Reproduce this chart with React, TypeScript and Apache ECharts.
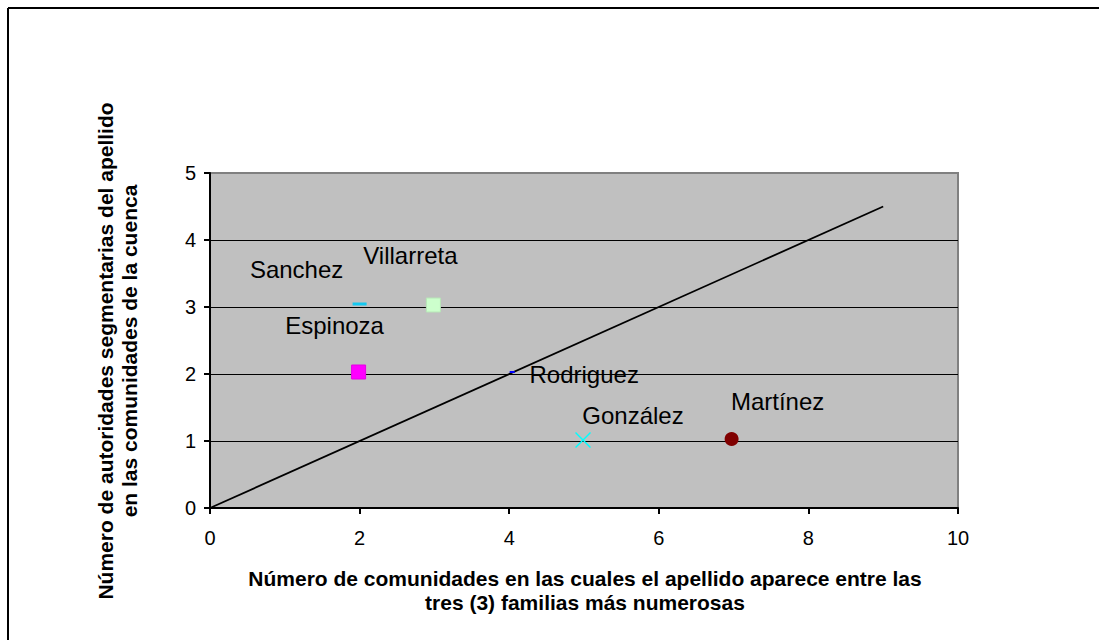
import React, { useEffect, useRef } from "react";
import * as echarts from "echarts";

const xTicks = [0, 2, 4, 6, 8, 10];
const yTicks = [0, 1, 2, 3, 4, 5];
const names = ["Sanchez", "Villarreta", "Espinoza", "Rodriguez", "González", "Martínez"];
const xValues = [2, 3, 2, 4, 5, 7];
const yValues = [3, 3, 2, 2, 1, 1];
const trendX = [0, 9];
const trendY = [0, 4.5];
const xTitle = "Número de comunidades en las cuales el apellido aparece entre las\ntres (3) familias más numerosas";
const yTitle = "Número de autoridades segmentarias del apellido\nen las comunidades de la cuenca";

const FONT = "Arial, 'Liberation Sans', sans-serif";

const markerStyles: any[] = [
  { symbol: "rect", symbolSize: [14, 3], symbolOffset: [0, -3], color: "#14c8f0", labelOffset: [-63, -35] },
  { symbol: "rect", symbolSize: 14, symbolOffset: [-1, -2], color: "#ccffcc", border: "#b8e6b8", labelOffset: [-23, -50] },
  { symbol: "rect", symbolSize: 14, symbolOffset: [-1, -2], color: "#ff00ff", border: "#e600e6", labelOffset: [-24, -47] },
  { symbol: "rect", symbolSize: [5, 2], symbolOffset: [3, -2], color: "#0000ff", labelOffset: [72, 2] },
  { symbol: "path://M0,1 L1,0 L8,7 L15,0 L16,1 L9,8 L16,15 L15,16 L8,9 L1,16 L0,15 L7,8 Z", symbolSize: 16, symbolOffset: [-1, -1], color: "#00ffff", labelOffset: [50, -25] },
  { symbol: "circle", symbolSize: 14, symbolOffset: [-2, -2], color: "#800000", labelOffset: [46, -38] },
];

export default function App() {
  const ref = useRef<HTMLDivElement>(null);
  useEffect(() => {
    if (!ref.current) return;
    const chart = echarts.init(ref.current, undefined, { renderer: "svg" });
    const pointSeries = names.map((n, i) => {
      const m = markerStyles[i];
      return {
        type: "scatter",
        name: n,
        data: [[xValues[i], yValues[i]]],
        symbol: m.symbol,
        symbolSize: m.symbolSize,
        symbolOffset: m.symbolOffset,
        itemStyle: {
          color: m.color,
          borderColor: m.border || m.color,
          borderWidth: m.border ? 1 : 0,
          opacity: 1,
        },
        label: {
          show: true,
          formatter: n,
          position: "inside",
          offset: m.labelOffset,
          color: "#000",
          fontSize: 24,
          fontFamily: FONT,
        },
        z: 5,
      };
    });
    chart.setOption({
      animation: false,
      backgroundColor: "#ffffff",
      grid: {
        left: 210,
        top: 173,
        right: 141,
        bottom: 132,
        show: true,
        backgroundColor: "#c0c0c0",
        borderColor: "#808080",
        borderWidth: 2,
      },
      xAxis: {
        type: "value",
        min: xTicks[0],
        max: xTicks[xTicks.length - 1],
        interval: xTicks[1] - xTicks[0],
        axisLine: { show: true, lineStyle: { color: "#000", width: 2 } },
        axisTick: { show: true, length: 6, lineStyle: { color: "#000", width: 2 } },
        axisLabel: { color: "#000", fontSize: 20, fontFamily: FONT, margin: 20 },
        splitLine: { show: false },
      },
      yAxis: {
        type: "value",
        min: yTicks[0],
        max: yTicks[yTicks.length - 1],
        interval: yTicks[1] - yTicks[0],
        axisLine: { show: true, lineStyle: { color: "#000", width: 2 } },
        axisTick: { show: true, length: 6, lineStyle: { color: "#000", width: 2 } },
        axisLabel: { color: "#000", fontSize: 20, fontFamily: FONT, margin: 14 },
        splitLine: { show: true, showMinLine: false, showMaxLine: false, lineStyle: { color: "#000", width: 1 } },
      },
      graphic: [
        {
          type: "line",
          shape: { x1: 8, y1: 8, x2: 3000, y2: 8 },
          style: { stroke: "#000", lineWidth: 2 },
          silent: true,
          z: 100,
        },
        {
          type: "line",
          shape: { x1: 8, y1: 8, x2: 8, y2: 3000 },
          style: { stroke: "#000", lineWidth: 2 },
          silent: true,
          z: 100,
        },
        {
          type: "text",
          x: 585,
          y: 590,
          style: {
            text: xTitle,
            align: "center",
            verticalAlign: "middle",
            font: "bold 21px " + FONT,
            lineHeight: 24,
            fill: "#000",
          },
        },
        {
          type: "text",
          x: 117,
          y: 351,
          rotation: Math.PI / 2,
          style: {
            text: yTitle,
            align: "center",
            verticalAlign: "middle",
            font: "bold 21px " + FONT,
            lineHeight: 24,
            fill: "#000",
          },
        },
      ],
      series: [
        {
          type: "line",
          data: trendX.map((x, i) => [x, trendY[i]]),
          symbol: "none",
          lineStyle: { color: "#000", width: 1.8 },
          z: 3,
        },
        ...pointSeries,
      ],
    });
    return () => chart.dispose();
  }, []);
  return (
    <div
      ref={ref}
      style={{ position: "absolute", left: 0, top: 0, width: 1099, height: 640 }}
    />
  );
}
